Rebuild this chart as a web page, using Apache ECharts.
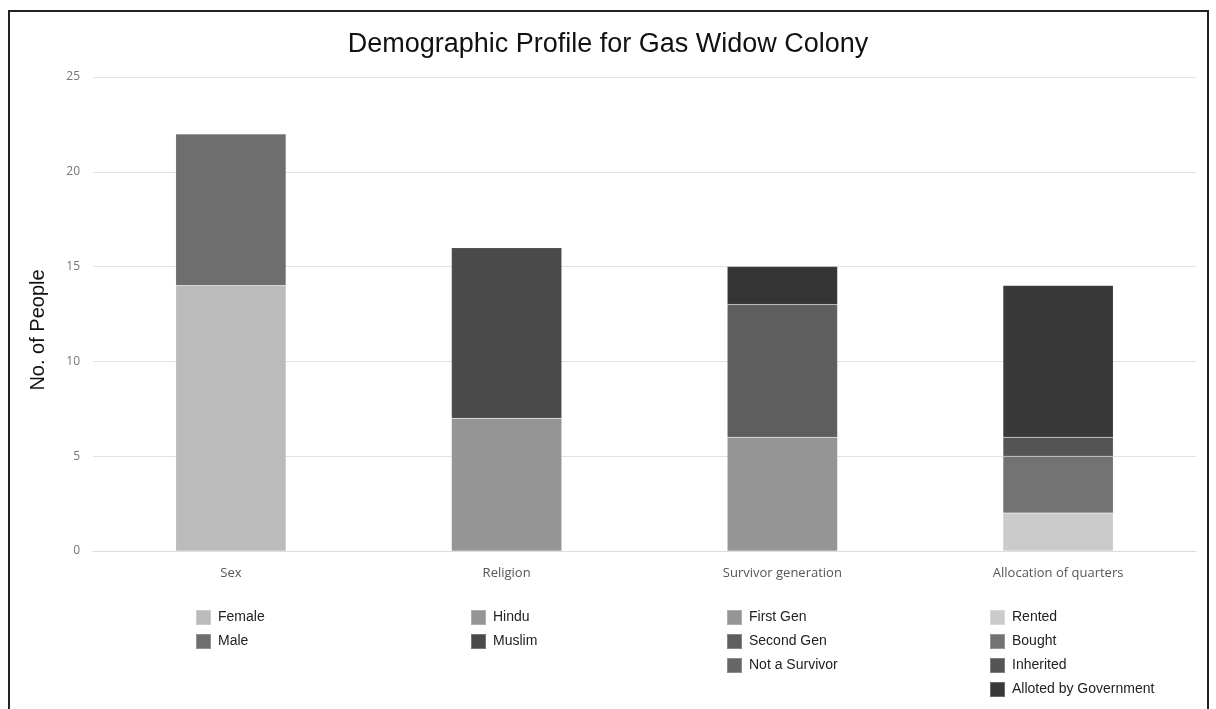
<!DOCTYPE html>
<html>
<head>
<meta charset="utf-8">
<title>Demographic Profile for Gas Widow Colony</title>
<script src="https://cdn.jsdelivr.net/npm/echarts@6/dist/echarts.min.js"></script>
<style>
  html, body { margin: 0; padding: 0; background: #ffffff; }
  #chart { width: 1216px; height: 709px; }
</style>
</head>
<body>
<div id="chart"></div>
<script>
// Categories along the x axis
const categories = ['Sex', 'Religion', 'Survivor generation', 'Allocation of quarters'];

// Sub-groups of each category (bottom to top in each stacked bar)
const sexGroups = ['Female', 'Male'];
const sexValues = [14, 8];

const religionGroups = ['Hindu', 'Muslim'];
const religionValues = [7, 9];

const survivorGroups = ['First Gen', 'Second Gen', 'Not a Survivor'];
const survivorValues = [6, 7, 2];

const quartersGroups = ['Rented', 'Bought', 'Inherited', 'Alloted by Government'];
const quartersValues = [2, 3, 1, 8];

// Y axis ticks
const yTicks = [0, 5, 10, 15, 20, 25];

// Fill colours for each segment, and the legend swatch colours
const segmentColors = {
  'Female': '#bbbbbb', 'Male': '#6e6e6e',
  'Hindu': '#959595', 'Muslim': '#4a4a4a',
  'First Gen': '#959595', 'Second Gen': '#5e5e5e', 'Not a Survivor': '#343434',
  'Rented': '#cbcbcb', 'Bought': '#737373', 'Inherited': '#555555', 'Alloted by Government': '#393939'
};
const swatchColors = Object.assign({}, segmentColors, { 'Not a Survivor': '#666666' });

const groupsByCategory = [
  [sexGroups, sexValues],
  [religionGroups, religionValues],
  [survivorGroups, survivorValues],
  [quartersGroups, quartersValues]
];

// One series per sub-group, holding a value only at its own category
const series = [];
groupsByCategory.forEach(([names, values], ci) => {
  names.forEach((name, i) => {
    const data = categories.map((_, k) => (k === ci ? values[i] : '-'));
    series.push({
      name: name,
      type: 'bar',
      stack: 'total',
      barWidth: '40%',
      data: data,
      itemStyle: { color: segmentColors[name], borderColor: 'rgba(255,255,255,0.25)', borderWidth: 0.5 },
      emphasis: { disabled: true }
    });
  });
});

// One legend column under each category
const legendLefts = [195, 470, 726, 989];
const legends = groupsByCategory.map(([names], ci) => ({
  orient: 'vertical',
  left: legendLefts[ci],
  top: 609,
  height: 200,
  padding: 0,
  itemWidth: 15,
  itemHeight: 15,
  itemGap: 7,
  selectedMode: false,
  icon: 'rect',
  textStyle: { fontFamily: 'Liberation Sans, Arial, sans-serif', fontSize: 14, color: '#222', padding: [0, 0, 0, 2] },
  data: names.map(n => ({ name: n, itemStyle: { color: swatchColors[n] } }))
}));

const chart = echarts.init(document.getElementById('chart'), null, { renderer: 'canvas' });
chart.setOption({
  backgroundColor: '#ffffff',
  animation: false,
  title: {
    text: 'Demographic Profile for Gas Widow Colony',
    left: 'center',
    top: 26,
    textStyle: { fontFamily: 'Liberation Sans, Arial, sans-serif', fontSize: 27, fontWeight: 'normal', color: '#111' }
  },
  legend: legends,
  grid: { left: 93, right: 20, top: 77, bottom: 158, containLabel: false },
  xAxis: {
    type: 'category',
    data: categories,
    axisLine: { show: true, lineStyle: { color: '#dddddd', width: 1 } },
    axisTick: { show: false },
    axisLabel: { margin: 16, fontFamily: 'Open Sans, sans-serif', fontSize: 13, color: '#555' }
  },
  yAxis: {
    type: 'value',
    min: yTicks[0],
    max: yTicks[yTicks.length - 1],
    interval: yTicks[1] - yTicks[0],
    name: 'No. of People',
    nameLocation: 'middle',
    nameGap: 45,
    nameMoveOverlap: false,
    nameTextStyle: { fontFamily: 'Liberation Sans, Arial, sans-serif', fontSize: 20, color: '#111', padding: [0, 32, 0, 0] },
    axisLine: { show: false },
    axisTick: { show: false },
    axisLabel: { margin: 13, fontFamily: 'Open Sans, sans-serif', fontSize: 12, color: '#777' },
    splitLine: { lineStyle: { color: '#e2e2e2', width: 1 } }
  },
  graphic: [{
    type: 'polyline',
    shape: { points: [[9, 720], [9, 11], [1208, 11], [1208, 720]] },
    style: { stroke: '#222', lineWidth: 2, fill: null },
    silent: true
  }],
  series: series
});
</script>
</body>
</html>
